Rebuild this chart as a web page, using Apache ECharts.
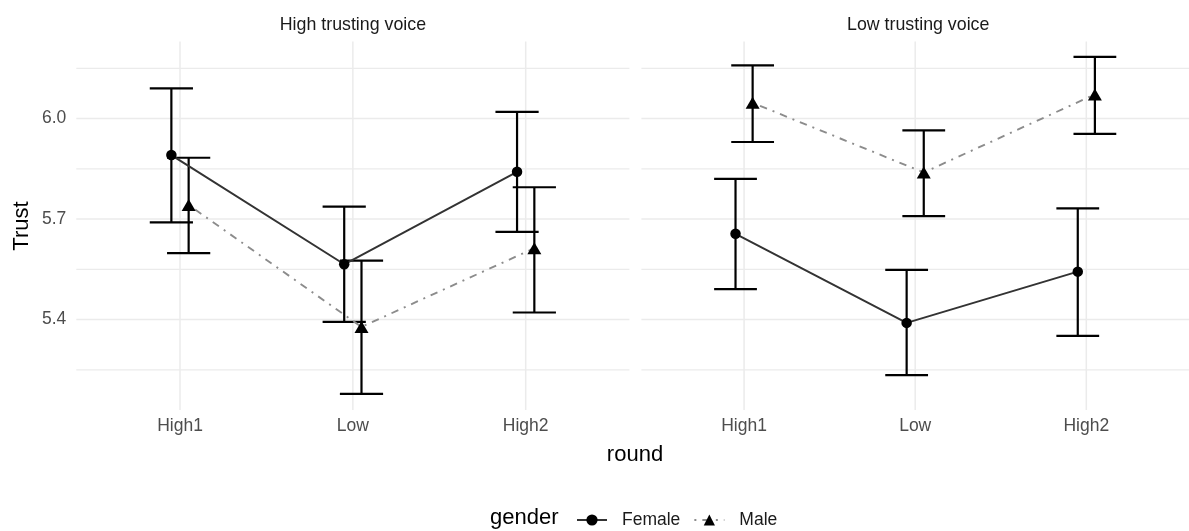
<!DOCTYPE html>
<html>
<head>
<meta charset="utf-8">
<script src="https://cdn.jsdelivr.net/npm/echarts@6/dist/echarts.min.js"></script>
<style>html,body{margin:0;padding:0;background:#fff}#c{width:1189px;height:531px}</style>
</head>
<body>
<div id="c"></div>
<script>
// ---- data ----
const categories = ['High1', 'Low', 'High2'];
const facets = ['High trusting voice', 'Low trusting voice'];
const yTicks = [5.4, 5.7, 6.0];
const yMinorTicks = [5.25, 5.55, 5.85, 6.15];

const highFemaleMean  = [5.891, 5.565, 5.841];
const highFemaleLower = [5.690, 5.393, 5.662];
const highFemaleUpper = [6.090, 5.737, 6.020];
const highMaleMean    = [5.742, 5.378, 5.613];
const highMaleLower   = [5.598, 5.178, 5.421];
const highMaleUpper   = [5.883, 5.576, 5.795];

const lowFemaleMean   = [5.656, 5.390, 5.543];
const lowFemaleLower  = [5.491, 5.234, 5.351];
const lowFemaleUpper  = [5.820, 5.548, 5.732];
const lowMaleMean     = [6.047, 5.839, 6.072];
const lowMaleLower    = [5.930, 5.709, 5.954];
const lowMaleUpper    = [6.159, 5.965, 6.184];

// ---- build ----
const FONT = "'Liberation Sans', Arial, Helvetica, sans-serif";
const DODGE = 0.05, CAP_HALF = 0.125;
const X_MIN = 0.4, X_MAX = 3.6, Y_MIN = 5.13, Y_MAX = 6.23;

function pts(mean, off) { return mean.map((v, i) => [i + 1 + off, v]); }
function bars(lo, hi, off) { return lo.map((v, i) => [i + 1 + off, v, hi[i]]); }

function errorRender(params, api) {
  const x = api.value(0), lo = api.value(1), hi = api.value(2);
  const pT = api.coord([x, hi]), pB = api.coord([x, lo]);
  const half = api.coord([x + CAP_HALF, lo])[0] - pB[0];
  const st = { stroke: '#000', lineWidth: 2.2 };
  return { type: 'group', children: [
    { type: 'line', shape: { x1: pT[0], y1: pT[1], x2: pB[0], y2: pB[1] }, style: st },
    { type: 'line', shape: { x1: pT[0] - half, y1: pT[1], x2: pT[0] + half, y2: pT[1] }, style: st },
    { type: 'line', shape: { x1: pB[0] - half, y1: pB[1], x2: pB[0] + half, y2: pB[1] }, style: st }
  ]};
}
function hGridRender(width) {
  return function (params, api) {
    const cs = params.coordSys;
    const y = api.coord([X_MIN, api.value(0)])[1];
    return { type: 'line', shape: { x1: cs.x, y1: y, x2: cs.x + cs.width, y2: y },
      style: { stroke: '#ebebeb', lineWidth: width } };
  };
}
function vGridRender(params, api) {
  const cs = params.coordSys;
  const x = api.coord([api.value(0), Y_MIN])[0];
  return { type: 'line', shape: { x1: x, y1: cs.y, x2: x, y2: cs.y + cs.height },
    style: { stroke: '#ebebeb', lineWidth: 1.5 } };
}

const grids = [
  { left: 76.3, top: 41.5, width: 553.1, height: 368.5 },
  { left: 641.4, top: 41.5, width: 553.1, height: 368.5 }
];
const xAxes = grids.map((g, k) => ({
  type: 'value', gridIndex: k, min: X_MIN, max: X_MAX,
  axisLine: { show: false }, axisTick: { show: false }, splitLine: { show: false },
  axisLabel: { customValues: [1, 2, 3], formatter: v => categories[Math.round(v) - 1],
    color: '#4d4d4d', fontSize: 17.5, fontFamily: FONT, margin: 7 }
}));
const yAxes = grids.map((g, k) => ({
  type: 'value', gridIndex: k, min: Y_MIN, max: Y_MAX,
  axisLine: { show: false }, axisTick: { show: false }, splitLine: { show: false },
  axisLabel: { show: k === 0, customValues: yTicks, formatter: v => v.toFixed(1),
    color: '#4d4d4d', fontSize: 17.5, fontFamily: FONT, margin: 10 }
}));

const panels = [
  { fm: highFemaleMean, fl: highFemaleLower, fu: highFemaleUpper, mm: highMaleMean, ml: highMaleLower, mu: highMaleUpper },
  { fm: lowFemaleMean, fl: lowFemaleLower, fu: lowFemaleUpper, mm: lowMaleMean, ml: lowMaleLower, mu: lowMaleUpper }
];
const series = [];
panels.forEach((p, k) => {
  const ax = { xAxisIndex: k, yAxisIndex: k };
  series.push({ type: 'custom', ...ax, silent: true, z: 0, renderItem: hGridRender(1.3), data: yMinorTicks.map(v => [v]), encode: { y: 0 } });
  series.push({ type: 'custom', ...ax, silent: true, z: 0, renderItem: hGridRender(1.5), data: yTicks.map(v => [v]), encode: { y: 0 } });
  series.push({ type: 'custom', ...ax, silent: true, z: 0, renderItem: vGridRender, data: categories.map((c, i) => [i + 1]), encode: { x: 0 } });
  series.push({ type: 'custom', ...ax, z: 2, renderItem: errorRender, data: bars(p.fl, p.fu, -DODGE), encode: { x: 0, y: [1, 2] } });
  series.push({ type: 'custom', ...ax, z: 2, renderItem: errorRender, data: bars(p.ml, p.mu, DODGE), encode: { x: 0, y: [1, 2] } });
  series.push({ type: 'line', name: 'Male', ...ax, z: 3, data: pts(p.mm, DODGE), symbol: 'triangle', symbolSize: [14, 12],
    itemStyle: { color: '#000' }, lineStyle: { color: '#8c8c8c', width: 1.9, type: [2, 6, 7.5, 6] } });
  series.push({ type: 'line', name: 'Female', ...ax, z: 4, data: pts(p.fm, -DODGE), symbol: 'circle', symbolSize: 10.5,
    itemStyle: { color: '#000' }, lineStyle: { color: '#333', width: 2 } });
});

const option = {
  animation: false,
  backgroundColor: '#fff',
  grid: grids,
  xAxis: xAxes,
  yAxis: yAxes,
  legend: {
    data: ['Female', 'Male'], left: 576, top: 511, padding: 0,
    itemWidth: 30, itemHeight: 14, itemGap: 13,
    textStyle: { fontSize: 17.5, color: '#1a1a1a', fontFamily: FONT, padding: [0, 0, 0, 10] }
  },
  graphic: [
    { type: 'text', x: 352.9, y: 25, style: { text: facets[0], align: 'center', verticalAlign: 'middle', font: '17.8px ' + FONT, fill: '#1a1a1a' } },
    { type: 'text', x: 918.2, y: 25, style: { text: facets[1], align: 'center', verticalAlign: 'middle', font: '17.8px ' + FONT, fill: '#1a1a1a' } },
    { type: 'text', x: 635, y: 455, style: { text: 'round', align: 'center', verticalAlign: 'middle', font: '22px ' + FONT, fill: '#000' } },
    { type: 'text', x: 22, y: 226, rotation: Math.PI / 2, style: { text: 'Trust', align: 'center', verticalAlign: 'middle', font: '22px ' + FONT, fill: '#000' } },
    { type: 'text', x: 490, y: 518, style: { text: 'gender', align: 'left', verticalAlign: 'middle', font: '22px ' + FONT, fill: '#000' } }
  ],
  series: series
};
echarts.init(document.getElementById('c'), null, { renderer: 'canvas' }).setOption(option);
</script>
</body>
</html>
